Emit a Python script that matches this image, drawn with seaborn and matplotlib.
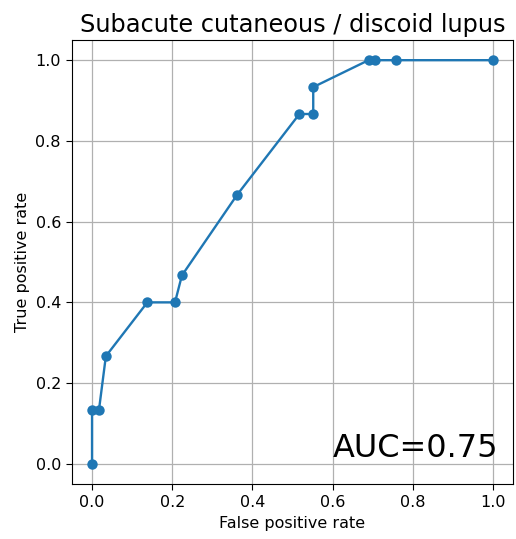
import matplotlib
matplotlib.use("Agg")
import matplotlib.pyplot as plt
import seaborn as sns
import pandas as pd

fpr = [0.0, 0.0, 1/58, 2/58, 8/58, 12/58, 13/58, 21/58, 30/58, 32/58, 32/58, 40/58, 41/58, 44/58, 1.0]
tpr = [0.0, 2/15, 2/15, 4/15, 6/15, 6/15, 7/15, 10/15, 13/15, 13/15, 14/15, 1.0, 1.0, 1.0, 1.0]
title = "Subacute cutaneous / discoid lupus"
auc_label = "AUC=0.75"

df = pd.DataFrame({"fpr": fpr, "tpr": tpr})

fig = plt.figure(figsize=(5.16, 5.39), dpi=100)
ax = fig.add_axes([72/516, 1 - 484/539, 441/516, 444/539])
sns.lineplot(data=df, x="fpr", y="tpr", sort=False, estimator=None,
             marker="o", markersize=7.5, markeredgewidth=0, color="#1f77b4",
             linewidth=1.7, ax=ax)
ax.grid(True, color="#b0b0b0", linewidth=0.9)
ax.set_axisbelow(True)
ax.set_xlim(-0.05, 1.05)
ax.set_ylim(-0.05, 1.05)
ax.set_xticks([0.0, 0.2, 0.4, 0.6, 0.8, 1.0])
ax.set_yticks([0.0, 0.2, 0.4, 0.6, 0.8, 1.0])
ax.tick_params(labelsize=11.5, length=4.5)
ax.set_xlabel("False positive rate", fontsize=11.5)
ax.set_ylabel("True positive rate", fontsize=11.5)
ax.set_title(title, fontsize=17.3)
ax.text(0.6, 0.0, auc_label, fontsize=23, va="bottom", ha="left")
fig.savefig("out.png", dpi=100)
